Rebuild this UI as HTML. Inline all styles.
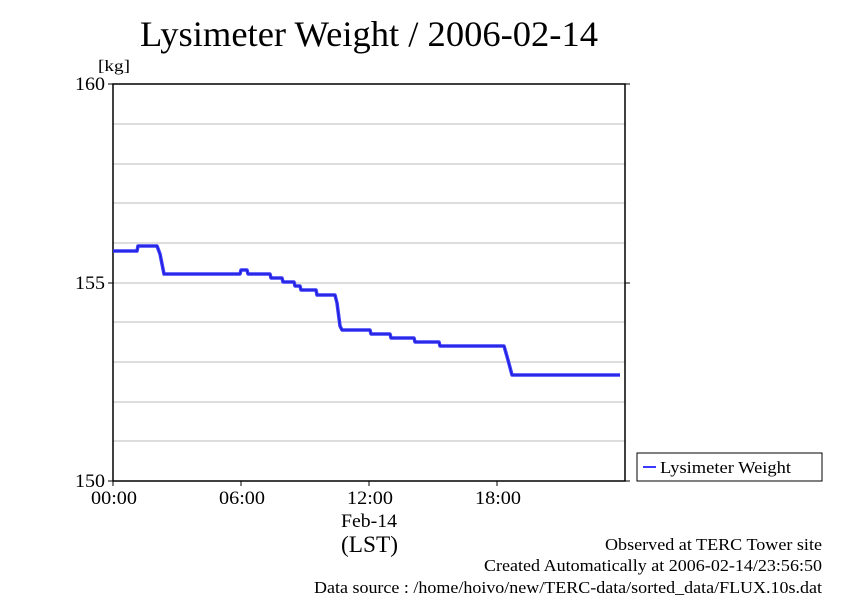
<!DOCTYPE html>
<html><head><style>body{margin:0;background:#fff;}svg{display:block}</style></head><body>
<svg width="842" height="595" xmlns="http://www.w3.org/2000/svg" font-family="Liberation Serif, serif">
<text x="140" y="46" font-size="36" textLength="458" lengthAdjust="spacingAndGlyphs">Lysimeter Weight / 2006-02-14</text>
<text x="98" y="71" font-size="16" textLength="32" lengthAdjust="spacingAndGlyphs">[kg]</text>
<g stroke="#bbb" stroke-width="1">
<line x1="113" y1="124" x2="625" y2="124"/><line x1="113" y1="164" x2="625" y2="164"/>
<line x1="113" y1="203" x2="625" y2="203"/><line x1="113" y1="243" x2="625" y2="243"/>
<line x1="113" y1="283" x2="625" y2="283"/><line x1="113" y1="322" x2="625" y2="322"/>
<line x1="113" y1="362" x2="625" y2="362"/><line x1="113" y1="402" x2="625" y2="402"/>
<line x1="113" y1="441" x2="625" y2="441"/>
</g>
<rect x="113" y="84" width="512" height="397" fill="none" stroke="#000" stroke-width="1.5"/>
<g stroke="#000" stroke-width="1">
<line x1="108" y1="84" x2="113" y2="84"/><line x1="108" y1="283" x2="113" y2="283"/><line x1="108" y1="481" x2="113" y2="481"/>
<line x1="625" y1="84" x2="630" y2="84"/><line x1="625" y1="283" x2="630" y2="283"/><line x1="625" y1="481" x2="630" y2="481"/>
<line x1="113" y1="481" x2="113" y2="486"/><line x1="241" y1="481" x2="241" y2="486"/><line x1="369" y1="481" x2="369" y2="486"/><line x1="497" y1="481" x2="497" y2="486"/>
</g>
<g font-size="19"><text x="75" y="90" textLength="30" lengthAdjust="spacingAndGlyphs">160</text><text x="75" y="289" textLength="30" lengthAdjust="spacingAndGlyphs">155</text><text x="75" y="487" textLength="30" lengthAdjust="spacingAndGlyphs">150</text></g>
<g font-size="19"><text x="91" y="504" textLength="46" lengthAdjust="spacingAndGlyphs">00:00</text><text x="219" y="504" textLength="46" lengthAdjust="spacingAndGlyphs">06:00</text><text x="347" y="504" textLength="46" lengthAdjust="spacingAndGlyphs">12:00</text><text x="475" y="504" textLength="46" lengthAdjust="spacingAndGlyphs">18:00</text>
<text x="341" y="527" textLength="56" lengthAdjust="spacingAndGlyphs">Feb-14</text><text x="341" y="552" font-size="23" textLength="57" lengthAdjust="spacingAndGlyphs">(LST)</text></g>
<polyline fill="none" stroke="#3b3bff" stroke-width="3.5" stroke-linejoin="round" points="113,251 137,251 138,246 157,246 160,254 164,274 240,274 241,270 247,270 248,274 270,274 271,278 282,278 283,282 294,282 295,286 300,286 301,290 316,290 317,295 335,295 337,303 340,326 342,330 370,330 371,334 390,334 391,338 414,338 415,342 439,342 440,346 504,346 508,360 512,375 620,375"/>
<polyline fill="none" stroke="#1a1acc" stroke-width="1" points="113,251 137,251 138,246 157,246 160,254 164,274 240,274 241,270 247,270 248,274 270,274 271,278 282,278 283,282 294,282 295,286 300,286 301,290 316,290 317,295 335,295 337,303 340,326 342,330 370,330 371,334 390,334 391,338 414,338 415,342 439,342 440,346 504,346 508,360 512,375 620,375"/>
<rect x="637" y="453" width="185" height="28" fill="#fff" stroke="#000" stroke-width="1"/>
<line x1="643" y1="467" x2="656" y2="467" stroke="#3b3bff" stroke-width="2"/>
<text x="660" y="473" font-size="17" textLength="131" lengthAdjust="spacingAndGlyphs">Lysimeter Weight</text>
<g font-size="17"><text x="605" y="550" textLength="217" lengthAdjust="spacingAndGlyphs">Observed at TERC Tower site</text>
<text x="484" y="571" textLength="338" lengthAdjust="spacingAndGlyphs">Created Automatically at 2006-02-14/23:56:50</text>
<text x="314" y="593" textLength="508" lengthAdjust="spacingAndGlyphs">Data source : /home/hoivo/new/TERC-data/sorted_data/FLUX.10s.dat</text></g>
</svg>
</body></html>
